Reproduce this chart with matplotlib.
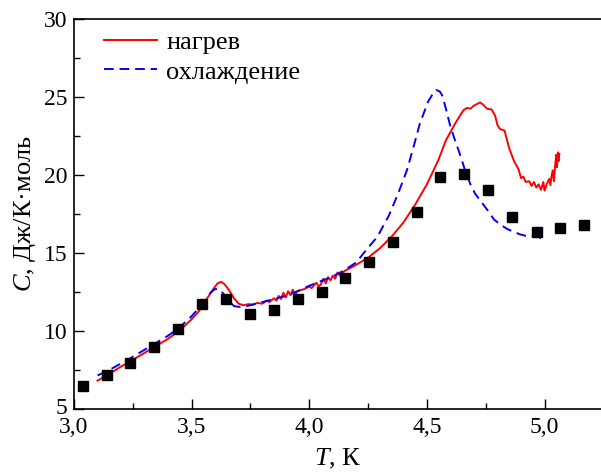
import matplotlib
matplotlib.use("Agg")
import matplotlib.pyplot as plt
import matplotlib.transforms as mtransforms
from matplotlib.ticker import MultipleLocator, FuncFormatter

plt.rcParams['font.family'] = ['Liberation Serif', 'DejaVu Serif']
plt.rcParams['mathtext.fontset'] = 'custom'
plt.rcParams['mathtext.it'] = 'Liberation Serif:italic'
plt.rcParams['mathtext.rm'] = 'Liberation Serif'

# heating curve (нагрев)
heat_T = [3.10, 3.15, 3.20, 3.25, 3.30, 3.35, 3.40, 3.45, 3.50, 3.53, 3.56, 3.59, 3.61, 3.625,
          3.64, 3.66, 3.68, 3.70, 3.72, 3.74, 3.76, 3.78, 3.80, 3.82, 3.83, 3.85, 3.86, 3.87,
          3.88, 3.89, 3.90, 3.91, 3.92, 3.93, 3.94, 3.95, 3.96, 3.98, 4.00, 4.01, 4.03, 4.04,
          4.05, 4.06, 4.07, 4.08, 4.09, 4.10, 4.11, 4.12, 4.13, 4.15, 4.17, 4.20, 4.25, 4.30,
          4.35, 4.40, 4.45, 4.50, 4.55, 4.58, 4.62, 4.655, 4.67, 4.685, 4.70, 4.726, 4.74,
          4.755, 4.775, 4.79, 4.80, 4.81, 4.83, 4.85, 4.87, 4.89, 4.90, 4.91, 4.92, 4.935,
          4.945, 4.955, 4.965, 4.975, 4.985, 4.995, 5.00, 5.01, 5.02, 5.025, 5.03, 5.035,
          5.04, 5.045, 5.05, 5.053, 5.057, 5.06, 5.063]
heat_C = [6.82, 7.25, 7.72, 8.15, 8.60, 9.05, 9.50, 10.05, 10.75, 11.25, 11.95, 12.65, 13.05, 13.15,
          13.00, 12.60, 12.10, 11.75, 11.65, 11.72, 11.70, 11.80, 11.75, 11.95, 11.85, 12.10, 11.95, 12.25,
          12.05, 12.45, 12.15, 12.55, 12.30, 12.65, 12.35, 12.55, 12.60, 12.70, 12.85, 12.75, 13.10, 12.85,
          13.00, 13.35, 13.05, 13.45, 13.25, 13.55, 13.35, 13.75, 13.55, 13.85, 14.00, 14.25, 14.70, 15.30,
          16.05, 16.95, 18.10, 19.40, 21.00, 22.20, 23.30, 24.15, 24.30, 24.25, 24.45, 24.65, 24.50,
          24.25, 24.20, 23.80, 23.20, 22.95, 22.85, 21.70, 20.90, 20.35, 19.80, 19.90, 19.55, 19.60,
          19.30, 19.55, 19.20, 19.40, 19.05, 19.55, 19.00, 19.45, 19.75, 19.35, 19.95, 20.30,
          19.60, 20.60, 21.30, 20.50, 21.45, 20.90, 21.35]

# cooling curve (охлаждение)
cool_T = [3.10, 3.15, 3.20, 3.25, 3.30, 3.35, 3.40, 3.45, 3.50, 3.55, 3.58, 3.60, 3.62, 3.64,
          3.66, 3.68, 3.70, 3.72, 3.75, 3.80, 3.85, 3.90, 3.95, 4.00, 4.05, 4.10, 4.15, 4.20,
          4.245, 4.29, 4.34, 4.38, 4.415, 4.445, 4.47, 4.49, 4.505, 4.525, 4.54, 4.555, 4.565,
          4.58, 4.60, 4.62, 4.64, 4.66, 4.685, 4.705, 4.73, 4.76, 4.785, 4.81, 4.84, 4.87,
          4.895, 4.92, 4.95, 4.975, 5.00]
cool_C = [7.15, 7.50, 7.92, 8.35, 8.80, 9.25, 9.70, 10.25, 10.95, 11.80, 12.45, 12.70, 12.65, 12.30,
          11.90, 11.60, 11.55, 11.55, 11.65, 11.85, 12.05, 12.25, 12.55, 12.90, 13.20, 13.50, 13.90, 14.40,
          15.25, 16.05, 17.45, 18.90, 20.30, 21.90, 23.30, 24.10, 24.70, 25.20, 25.45, 25.35, 25.10,
          24.30, 23.10, 22.20, 21.35, 20.40, 19.40, 18.80, 18.30, 17.70, 17.15, 16.85, 16.55, 16.35,
          16.20, 16.10, 16.10, 16.05, 15.70]

# points (squares)
pts_T = [3.037, 3.139, 3.24, 3.34, 3.44, 3.544, 3.646, 3.75, 3.85, 3.952, 4.054, 4.153,
         4.254, 4.358, 4.46, 4.556, 4.657, 4.76, 4.862, 4.966, 5.066, 5.167]
pts_C = [6.5, 7.2, 7.98, 9.0, 10.1, 11.7, 12.03, 11.1, 11.33, 12.03, 12.5, 13.38,
         14.4, 15.7, 17.65, 19.9, 20.05, 19.07, 17.3, 16.36, 16.6, 16.8]

x_ticks = [3.0, 3.5, 4.0, 4.5, 5.0]
y_ticks = [5, 10, 15, 20, 25, 30]

fig = plt.figure(figsize=(6.01, 4.75), dpi=100)
ax = fig.add_axes([74/601, 1 - 409/475, 527/601, (409 - 19)/475])

ax.plot(heat_T, heat_C, color='#ff0000', lw=1.4, label='нагрев')
ax.plot(cool_T, cool_C, color='#0000ff', lw=1.4, ls=(0, (5, 3)), label='охлаждение')
ax.plot(pts_T, pts_C, ls='none', marker='s', ms=7, color='black')

ax.set_xlim(3.0, 5.24)
ax.set_ylim(5, 30)
ax.set_xticks(x_ticks)
ax.set_yticks(y_ticks)
ax.xaxis.set_minor_locator(MultipleLocator(0.25))
ax.yaxis.set_minor_locator(MultipleLocator(2.5))
ax.xaxis.set_major_formatter(FuncFormatter(lambda v, p: f"{v:.1f}".replace('.', ',')))
ax.tick_params(which='both', direction='in', top=False, right=False, labelsize=17)
ax.tick_params(which='major', length=7, width=1)
ax.tick_params(which='minor', length=4, width=1)
ax.tick_params(axis='x', pad=6)
ax.tick_params(axis='y', pad=5)
ax.spines['right'].set_visible(False)
for s in ['left', 'bottom', 'top']:
    ax.spines[s].set_linewidth(1.2)

# nudge the lowest y tick label up slightly, as in the reference
fig.canvas.draw()
lowest = ax.get_yticklabels()[0]
lowest.set_transform(lowest.get_transform() +
                     mtransforms.ScaledTranslation(0, 3/100, fig.dpi_scale_trans))

ax.set_xlabel(r'$\mathit{T}$, К', fontsize=19, labelpad=6)
ax.set_ylabel(r'$\mathit{C}$, Дж/К·моль', fontsize=19, labelpad=4)

ax.legend(loc='upper left', bbox_to_anchor=(0.035, 1.0), frameon=False, fontsize=19,
          handlelength=2.0, handletextpad=0.35, borderaxespad=0.0, labelspacing=0.22,
          borderpad=0.45)

fig.savefig('out.png', dpi=100)
